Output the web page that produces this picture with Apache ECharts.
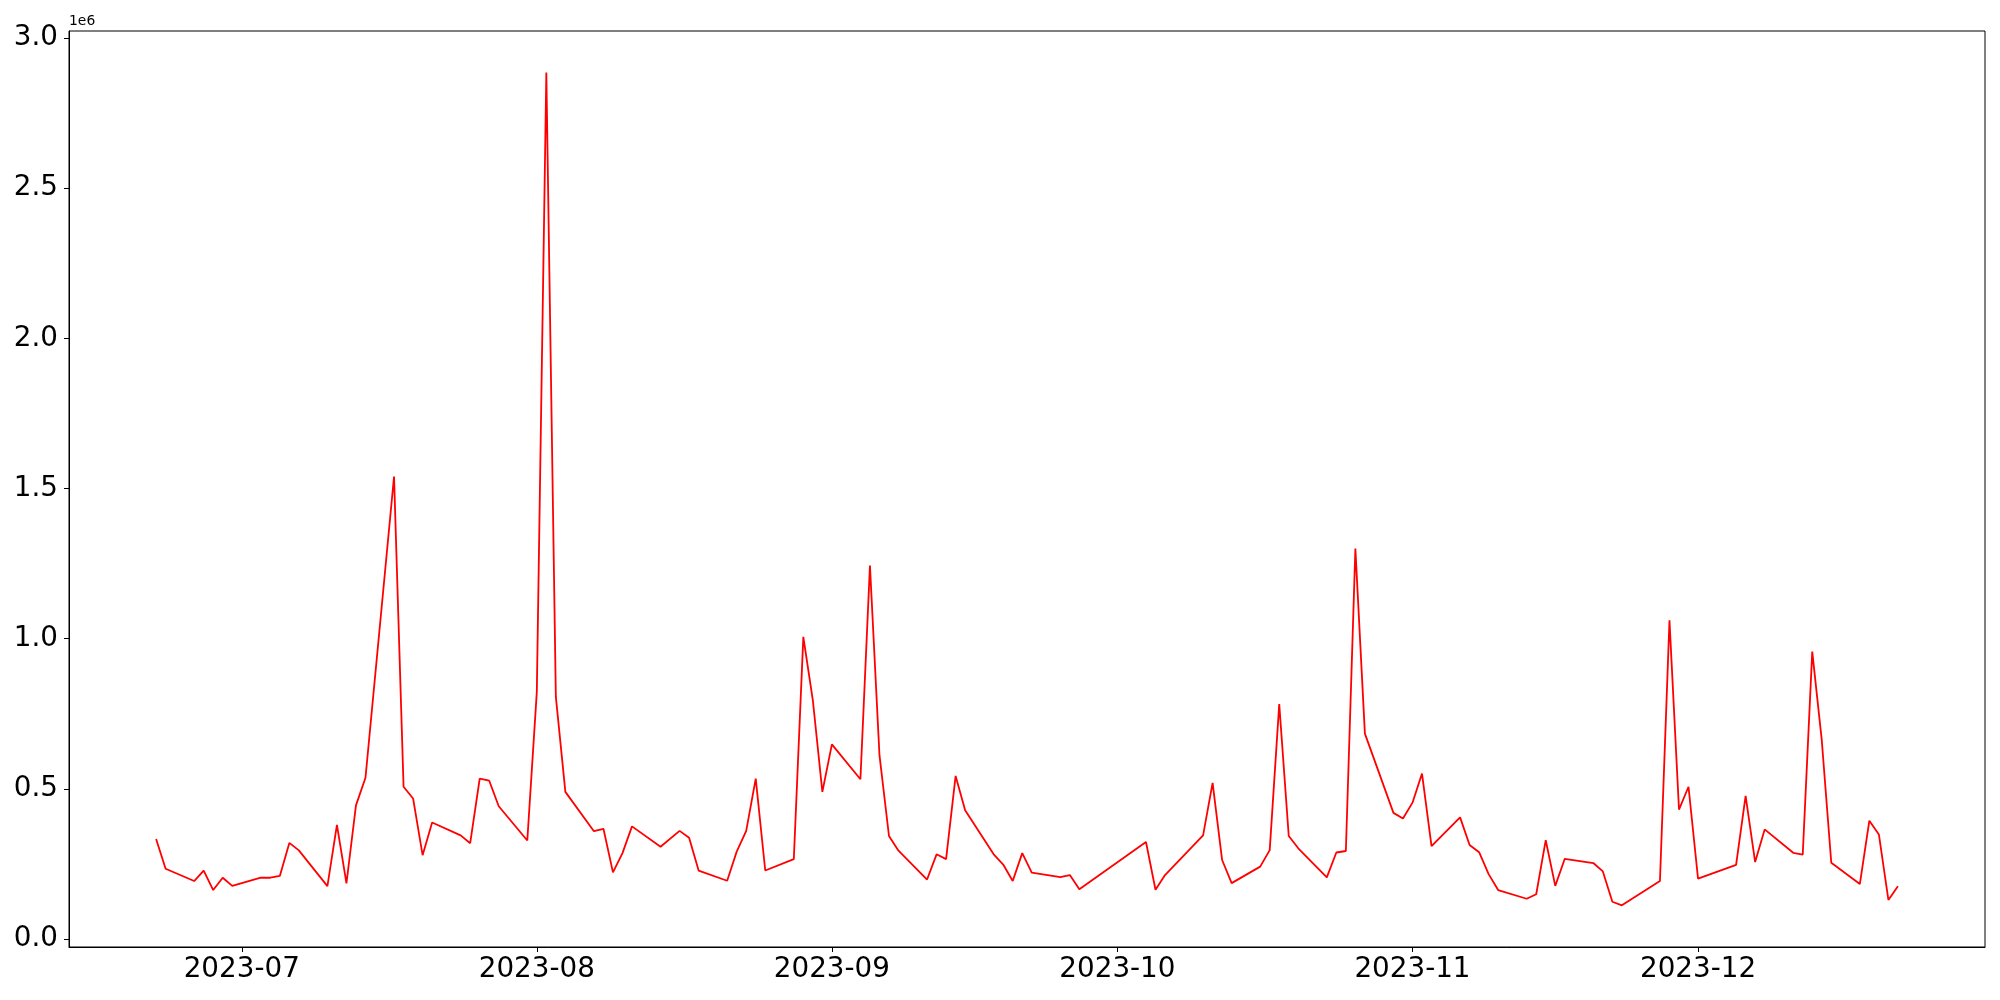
<!DOCTYPE html>
<html>
<head>
<meta charset="utf-8">
<script src="https://cdn.jsdelivr.net/npm/echarts@6/dist/echarts.min.js"></script>
<style>
html,body{margin:0;padding:0;background:#fff;}
#chart{width:2000px;height:1000px;}
</style>
</head>
<body>
<div id="chart"></div>
<script>
const dates = [
'2023-06-22','2023-06-23','2023-06-26','2023-06-27','2023-06-28','2023-06-29','2023-06-30',
'2023-07-03','2023-07-04','2023-07-05','2023-07-06','2023-07-07','2023-07-10','2023-07-11',
'2023-07-12','2023-07-13','2023-07-14','2023-07-17','2023-07-18','2023-07-19','2023-07-20',
'2023-07-21','2023-07-24','2023-07-25','2023-07-26','2023-07-27','2023-07-28','2023-07-31',
'2023-08-01','2023-08-02','2023-08-03','2023-08-04','2023-08-07','2023-08-08','2023-08-09',
'2023-08-10','2023-08-11','2023-08-14','2023-08-16','2023-08-17','2023-08-18','2023-08-21',
'2023-08-22','2023-08-23','2023-08-24','2023-08-25','2023-08-28','2023-08-29','2023-08-30',
'2023-08-31','2023-09-01','2023-09-04','2023-09-05','2023-09-06','2023-09-07','2023-09-08',
'2023-09-11','2023-09-12','2023-09-13','2023-09-14','2023-09-15','2023-09-18','2023-09-19',
'2023-09-20','2023-09-21','2023-09-22','2023-09-25','2023-09-26','2023-09-27','2023-10-04',
'2023-10-05','2023-10-06','2023-10-10','2023-10-11','2023-10-12','2023-10-13','2023-10-16',
'2023-10-17','2023-10-18','2023-10-19','2023-10-20','2023-10-23','2023-10-24','2023-10-25',
'2023-10-26','2023-10-27','2023-10-30','2023-10-31','2023-11-01','2023-11-02','2023-11-03',
'2023-11-06','2023-11-07','2023-11-08','2023-11-09','2023-11-10','2023-11-13','2023-11-14',
'2023-11-15','2023-11-16','2023-11-17','2023-11-20','2023-11-21','2023-11-22','2023-11-23',
'2023-11-27','2023-11-28','2023-11-29','2023-11-30','2023-12-01','2023-12-05','2023-12-06',
'2023-12-07','2023-12-08','2023-12-11','2023-12-12','2023-12-13','2023-12-14','2023-12-15',
'2023-12-18','2023-12-19','2023-12-20','2023-12-21','2023-12-22'
];
const values = [
333000,234000,193000,228000,163000,204000,177000,
204000,204000,210000,320000,295000,176000,380000,
185000,445000,537000,1540000,507000,468000,279000,
388000,345000,319000,534000,527000,442000,328000,
823000,2885000,806000,490000,359000,367000,222000,
286000,375000,307000,360000,337000,228000,194000,
291000,360000,534000,228000,266000,1006000,795000,
490000,648000,532000,1244000,612000,343000,294000,
198000,282000,266000,543000,429000,282000,248000,
193000,286000,221000,206000,213000,166000,323000,
164000,213000,345000,520000,263000,186000,241000,
296000,782000,343000,302000,205000,288000,293000,
1300000,684000,420000,401000,454000,551000,309000,
405000,313000,289000,216000,163000,134000,149000,
329000,177000,267000,253000,225000,124000,112000,
193000,1061000,431000,507000,201000,247000,477000,
256000,365000,287000,281000,957000,662000,254000,
183000,394000,348000,130000,176000
];
const xTickDates = ['2023-07-01','2023-08-01','2023-09-01','2023-10-01','2023-11-01','2023-12-01'];
const yTickValues = [0, 500000, 1000000, 1500000, 2000000, 2500000, 3000000];
const yOffsetText = '1e6';

function ts(s) {
  const p = s.split('-').map(Number);
  return Date.UTC(p[0], p[1] - 1, p[2]);
}
const tFirst = ts(dates[0]);
const tLast = ts(dates[dates.length - 1]);
const tPad = (tLast - tFirst) * 0.05;
const vMin = Math.min(...values), vMax = Math.max(...values);
const vPad = (vMax - vMin) * 0.05;

const seriesData = dates.map((d, i) => [ts(d), values[i]]);
const xTicks = xTickDates.map(ts);

const FONT = 'DejaVu Sans';
const chart = echarts.init(document.getElementById('chart'), null, {renderer: 'canvas'});
chart.setOption({
  animation: false,
  backgroundColor: '#fff',
  grid: {left: 69, right: 15, top: 31, bottom: 53, show: true, borderColor: '#000', borderWidth: 1, containLabel: false},
  xAxis: {
    type: 'value',
    min: tFirst - tPad,
    max: tLast + tPad,
    axisLine: {show: true, onZero: false, lineStyle: {color: '#000', width: 1}},
    axisTick: {show: true, inside: false, length: 5, lineStyle: {color: '#000', width: 1}, customValues: xTicks},
    axisLabel: {
      show: true, customValues: xTicks, margin: 9,
      fontFamily: FONT, fontSize: 27.8, color: '#000',
      formatter: function (v) {
        const d = new Date(v);
        return d.getUTCFullYear() + '-' + String(d.getUTCMonth() + 1).padStart(2, '0');
      }
    },
    splitLine: {show: false}
  },
  yAxis: {
    type: 'value',
    min: vMin - vPad,
    max: vMax + vPad,
    axisLine: {show: true, onZero: false, lineStyle: {color: '#000', width: 1}},
    axisTick: {show: true, inside: false, length: 5, lineStyle: {color: '#000', width: 1}, customValues: yTickValues},
    axisLabel: {
      show: true, customValues: yTickValues, margin: 11,
      fontFamily: FONT, fontSize: 27.8, color: '#000',
      padding: [2, 0, 0, 0],
      formatter: function (v) { return (v / 1e6).toFixed(1); }
    },
    splitLine: {show: false}
  },
  graphic: [{
    type: 'text', left: 69, top: 14,
    style: {text: yOffsetText, fontFamily: FONT, fontSize: 13.9, fill: '#000'}
  }],
  series: [{
    type: 'line',
    data: seriesData,
    showSymbol: false,
    symbol: 'none',
    lineStyle: {color: '#ff0000', width: 1.8},
    itemStyle: {color: '#ff0000'}
  }]
});
</script>
</body>
</html>
